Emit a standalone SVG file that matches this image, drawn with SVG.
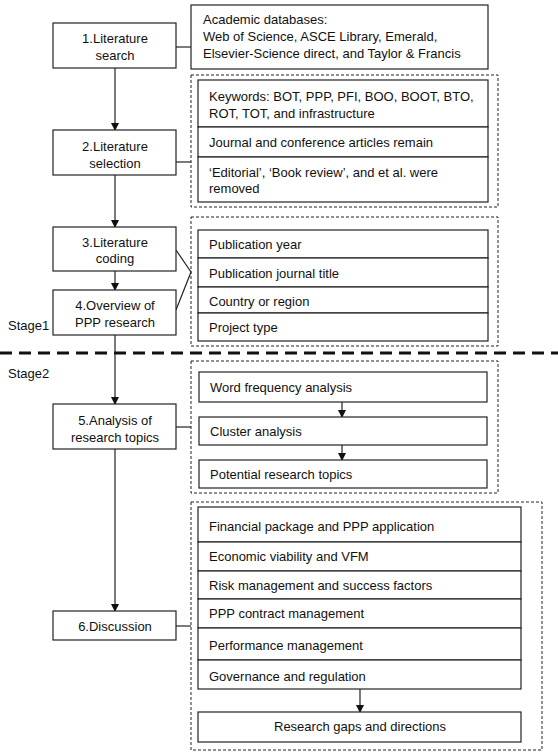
<svg xmlns="http://www.w3.org/2000/svg" width="558" height="754" viewBox="0 0 558 754">
<style>
text{font-family:"Liberation Sans",Arial,sans-serif;font-size:13px;fill:#111}
.c{text-anchor:middle}
.box{fill:#fff;stroke:#222;stroke-width:1.2}
.dash{fill:none;stroke:#222;stroke-width:1;stroke-dasharray:3 2}
.ln{fill:none;stroke:#222;stroke-width:1.2}
.stage{fill:none;stroke:#111;stroke-width:3;stroke-dasharray:12 7}
</style>
<defs>
<marker id="ah" markerWidth="8" markerHeight="8" refX="7" refY="4" orient="auto" markerUnits="userSpaceOnUse">
<path d="M0,0 L8,4 L0,8 Z" fill="#111"/>
</marker>
</defs>
<rect width="558" height="754" fill="#fff"/>
<g id="connectors">
<line class="ln" x1="115" y1="68" x2="115" y2="130" marker-end="url(#ah)"/>
<line class="ln" x1="115" y1="175" x2="115" y2="227" marker-end="url(#ah)"/>
<line class="ln" x1="115" y1="271" x2="115" y2="290" marker-end="url(#ah)"/>
<line class="ln" x1="115" y1="335" x2="115" y2="404" marker-end="url(#ah)"/>
<line class="ln" x1="115" y1="449" x2="115" y2="611" marker-end="url(#ah)"/>
<line class="ln" x1="176" y1="47" x2="191" y2="47"/>
<line class="ln" x1="176" y1="162" x2="191" y2="162"/>
<polyline class="ln" points="176,250 191,272 176,310"/>
<line class="ln" x1="176" y1="427" x2="191" y2="427"/>
<line class="ln" x1="176" y1="626" x2="191" y2="626"/>
<line class="ln" x1="342" y1="402" x2="342" y2="417" marker-end="url(#ah)"/>
<line class="ln" x1="342" y1="445" x2="342" y2="460" marker-end="url(#ah)"/>
<line class="ln" x1="360" y1="689" x2="360" y2="712" marker-end="url(#ah)"/>
</g>
<line class="stage" x1="0" y1="353" x2="558" y2="353"/>
<text x="8" y="330">Stage1</text>
<text x="8" y="378">Stage2</text>
<g id="n1"><rect class="box" x="53" y="23" width="123" height="45"/><text class="c" x="115" y="43">1.Literature</text><text class="c" x="115" y="60">search</text></g>
<g id="n2"><rect class="box" x="53" y="130" width="123" height="45"/><text class="c" x="115" y="151">2.Literature</text><text class="c" x="115" y="168">selection</text></g>
<g id="n3"><rect class="box" x="53" y="227" width="123" height="44"/><text class="c" x="115" y="247">3.Literature</text><text class="c" x="115" y="263">coding</text></g>
<g id="n4"><rect class="box" x="53" y="290" width="123" height="45"/><text class="c" x="115" y="310">4.Overview of</text><text class="c" x="115" y="327">PPP research</text></g>
<g id="n5"><rect class="box" x="53" y="404" width="123" height="45"/><text class="c" x="115" y="425">5.Analysis of</text><text class="c" x="115" y="442">research topics</text></g>
<g id="n6"><rect class="box" x="53" y="611" width="123" height="29"/><text class="c" x="115" y="631">6.Discussion</text></g>
<g id="academic"><rect class="box" x="191" y="5" width="297" height="64"/>
<text x="203" y="24">Academic databases:</text><text x="203" y="41">Web of Science, ASCE Library, Emerald,</text><text x="203" y="58">Elsevier-Science direct, and Taylor &amp; Francis</text></g>
<g id="selection"><rect class="dash" x="191" y="75" width="307" height="132"/>
<rect class="box" x="198" y="80" width="290" height="47"/><rect class="box" x="198" y="127" width="290" height="30"/><rect class="box" x="198" y="157" width="290" height="45"/>
<text x="209" y="101">Keywords: BOT, PPP, PFI, BOO, BOOT, BTO,</text><text x="209" y="118">ROT, TOT, and infrastructure</text>
<text x="209" y="147">Journal and conference articles remain</text>
<text x="209" y="177">‘Editorial’, ‘Book review’, and et al. were</text><text x="209" y="193">removed</text></g>
<g id="coding"><rect class="dash" x="191" y="217" width="307" height="129"/>
<rect class="box" x="198" y="230" width="290" height="28"/><rect class="box" x="198" y="258" width="290" height="29"/><rect class="box" x="198" y="287" width="290" height="26"/><rect class="box" x="198" y="313" width="290" height="28"/>
<text x="209" y="249">Publication year</text><text x="209" y="278">Publication journal title</text><text x="209" y="306">Country or region</text><text x="209" y="332">Project type</text></g>
<g id="topics"><rect class="dash" x="191" y="361" width="307" height="132"/>
<rect class="box" x="199" y="372" width="288" height="30"/><rect class="box" x="199" y="417" width="288" height="28"/><rect class="box" x="199" y="460" width="288" height="28"/>
<text x="210" y="392">Word frequency analysis</text><text x="210" y="436">Cluster analysis</text><text x="210" y="479">Potential research topics</text></g>
<g id="discussion"><rect class="dash" x="191" y="502" width="351" height="248"/>
<rect class="box" x="198" y="507" width="323" height="35"/><rect class="box" x="198" y="542" width="323" height="29"/><rect class="box" x="198" y="571" width="323" height="28"/><rect class="box" x="198" y="599" width="323" height="29"/><rect class="box" x="198" y="628" width="323" height="32"/><rect class="box" x="198" y="660" width="323" height="29"/>
<rect class="box" x="198" y="712" width="323" height="30"/>
<text x="209" y="531">Financial package and PPP application</text><text x="209" y="561">Economic viability and VFM</text><text x="209" y="590">Risk management and success factors</text><text x="209" y="618">PPP contract management</text><text x="209" y="650">Performance management</text><text x="209" y="681">Governance and regulation</text>
<text class="c" x="360" y="731">Research gaps and directions</text></g>
</svg>
